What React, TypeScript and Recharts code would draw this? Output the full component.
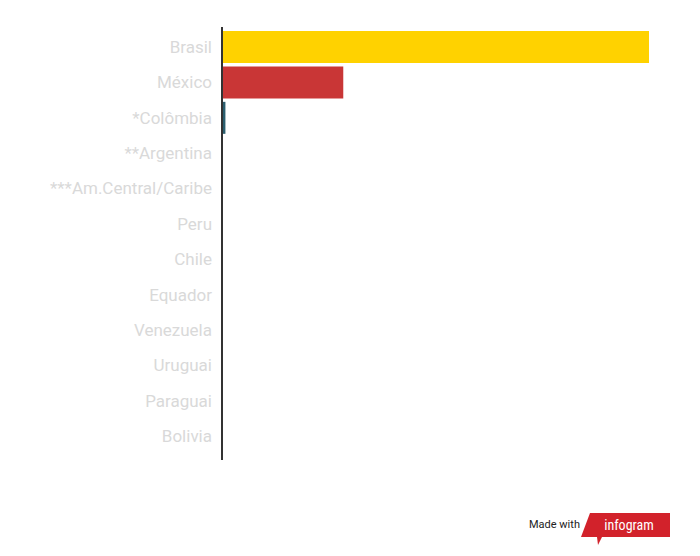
import { BarChart, Bar, XAxis, YAxis, Cell } from "recharts";

const countries = [
  "Brasil",
  "México",
  "*Colômbia",
  "**Argentina",
  "***Am.Central/Caribe",
  "Peru",
  "Chile",
  "Equador",
  "Venezuela",
  "Uruguai",
  "Paraguai",
  "Bolivia",
];
const values = [100, 28.4, 0.8, 0, 0, 0, 0, 0, 0, 0, 0, 0];
const barColors = ["#FFD200", "#C93636", "#2B5E6E"];

const data = countries.map((name, i) => ({ name, value: values[i] }));

export default function App() {
  return (
    <div style={{ position: "absolute", left: 0, top: 0, width: 700, height: 556, background: "#fff" }}>
      <BarChart
        width={700}
        height={556}
        data={data}
        layout="vertical"
        margin={{ top: 27, right: 51, bottom: 96, left: 0 }}
        barSize={32}
      >
        <XAxis type="number" domain={[0, 100]} hide />
        <YAxis
          type="category"
          dataKey="name"
          width={222}
          tickSize={0}
          tickMargin={10}
          padding={{ top: 2, bottom: 6 }}
          axisLine={{ stroke: "#333", strokeWidth: 2 }}
          tick={{ fill: "#d9d9d9", fontSize: 17, fontFamily: "Roboto" }}
          interval={0}
        />
        <Bar dataKey="value" isAnimationActive={false}>
          {data.map((d, i) => (
            <Cell key={d.name} fill={barColors[i] || "#ccc"} />
          ))}
        </Bar>
      </BarChart>
      <div
        style={{
          position: "absolute",
          left: 529,
          top: 518,
          fontFamily: "Roboto",
          fontSize: 11,
          color: "#222",
        }}
      >
        Made with
      </div>
      <svg style={{ position: "absolute", left: 580, top: 510 }} width={92} height={38}>
        <polygon points="10,3 90,3 90,27 22,27 18,35 17,27 1,27" fill="#D2222B" />
        <text
          x={49}
          y={20}
          textAnchor="middle"
          fill="#fff"
          fontFamily="Roboto"
          fontSize={14}
          style={{ fontStretch: "condensed" }}
        >
          infogram
        </text>
      </svg>
    </div>
  );
}
